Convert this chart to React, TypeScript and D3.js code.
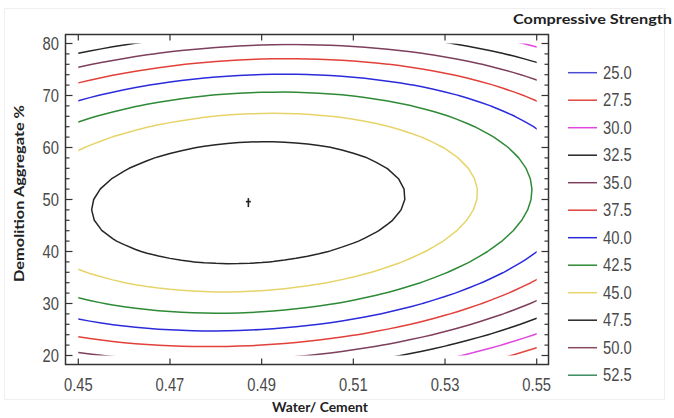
import React from 'react';
import * as d3 from 'd3';

// Contour levels of the fitted Compressive Strength surface
const levels = [25.0, 27.5, 30.0, 32.5, 35.0, 37.5, 40.0, 42.5, 45.0, 47.5, 50.0, 52.5];
const levelLabels = ['25.0', '27.5', '30.0', '32.5', '35.0', '37.5', '40.0', '42.5', '45.0', '47.5', '50.0', '52.5'];
const levelColors = ['#4b4bd6', '#e2473f', '#e048e0', '#262626', '#7d3f5c', '#e2403a', '#2b2bdc', '#2e8a36', '#e6d46a', '#262626', '#874a60', '#3a8a5e'];

const xTicks = [0.45, 0.47, 0.49, 0.51, 0.53, 0.55];
const xTickLabels = ['0.45', '0.47', '0.49', '0.51', '0.53', '0.55'];
const yTicks = [20, 30, 40, 50, 60, 70, 80];
const yTickLabels = ['20', '30', '40', '50', '60', '70', '80'];
const xDomain = [0.45, 0.55];
const yDomain = [20, 80];

// Fitted quadratic response surface
const optimumPoint = [0.4871, 49.4]; // water/cement, demolition %
const peakStrength = 49.7;
const curvature = [1903, 0.0161, 1.21]; // u^2, v^2, u*v

const W = 674;
const H = 418;

function strength(x: number, y: number) {
  const u = x - optimumPoint[0];
  const v = y - optimumPoint[1];
  return peakStrength - curvature[0] * u * u - curvature[1] * v * v + curvature[2] * u * v;
}

const NUM_SIZE = 18;
function narrowLen(s: string) {
  let w = 0;
  for (const ch of s) w += ch === '.' ? 0.228 : 0.456;
  return w * NUM_SIZE;
}

export default function App() {
  const sx = d3.scaleLinear().domain(xDomain).range([78.3, 536.7]);
  const sy = d3.scaleLinear().domain(yDomain).range([355.5, 43.5]);
  const frame = { x0: 65.5, y0: 34.5, x1: 548.5, y1: 364.5 };

  // evaluation grid (extends beyond the domain; drawing is clipped)
  const stepX = 0.0025;
  const stepY = 2;
  const gx0 = xDomain[0] - 2 * stepX;
  const gy0 = yDomain[0] - 2 * stepY;
  const nx = Math.round((xDomain[1] - xDomain[0]) / stepX) + 5;
  const ny = Math.round((yDomain[1] - yDomain[0]) / stepY) + 5;
  const values: number[] = new Array(nx * ny);
  for (let j = 0; j < ny; j++) {
    for (let i = 0; i < nx; i++) {
      values[j * nx + i] = strength(gx0 + i * stepX, gy0 + j * stepY);
    }
  }
  const contours = d3.contours().size([nx, ny]).thresholds(levels)(values);
  const toPx = (p: number[]) => {
    const x = gx0 + (p[0] - 0.5) * stepX;
    const y = gy0 + (p[1] - 0.5) * stepY;
    return `${sx(x).toFixed(2)},${sy(y).toFixed(2)}`;
  };
  const pathFor = (c: any) =>
    c.coordinates
      .map((poly: number[][][]) => poly.map((ring) => 'M' + ring.map(toPx).join('L') + 'Z').join(''))
      .join('');

  const numFont = "'Liberation Sans', Arial, sans-serif";
  const boldFont = "Lato, 'Open Sans', sans-serif";

  const yMinor = d3.range(20, 80.01, 2);

  return (
    <svg width={W} height={H} style={{ position: 'absolute', left: 0, top: 0, background: '#fff' }}>
      <defs>
        <clipPath id="dataClip">
          <rect x={sx(xDomain[0])} y={sy(yDomain[1])} width={sx(xDomain[1]) - sx(xDomain[0])} height={sy(yDomain[0]) - sy(yDomain[1])} />
        </clipPath>
      </defs>
      <rect x={0} y={0} width={W} height={H} fill="#fff" />
      {/* faint outer border */}
      <rect x={4.5} y={8.5} width={660} height={391} fill="none" stroke="#efefef" strokeWidth={1} />

      {/* contours */}
      <g clipPath="url(#dataClip)" fill="none" strokeWidth={1.5} strokeLinejoin="round">
        {contours.map((c, i) => (
          <path key={i} d={pathFor(c)} stroke={levelColors[i]} />
        ))}
      </g>

      {/* optimum marker */}
      <g stroke="#222" strokeWidth={1.6}>
        <line x1={sx(optimumPoint[0])} x2={sx(optimumPoint[0])} y1={sy(optimumPoint[1]) - 4.5} y2={sy(optimumPoint[1]) + 4.5} />
        <line x1={sx(optimumPoint[0]) - 2.5} x2={sx(optimumPoint[0]) + 2.5} y1={sy(optimumPoint[1]) - 1} y2={sy(optimumPoint[1]) - 1} />
      </g>

      {/* frame */}
      <rect x={frame.x0} y={frame.y0} width={frame.x1 - frame.x0} height={frame.y1 - frame.y0} fill="none" stroke="#333" strokeWidth={1.5} />

      {/* ticks */}
      <g stroke="#333" strokeWidth={1.2}>
        {yMinor.map((v) => {
          const major = v % 10 === 0;
          const len = major ? 7 : 4;
          return (
            <g key={v}>
              <line x1={frame.x0} x2={frame.x0 + len} y1={sy(v)} y2={sy(v)} />
              <line x1={frame.x1} x2={frame.x1 - len} y1={sy(v)} y2={sy(v)} />
            </g>
          );
        })}
        {xTicks.map((v) => (
          <g key={v}>
            <line x1={sx(v)} x2={sx(v)} y1={frame.y1} y2={frame.y1 - 6} />
            <line x1={sx(v)} x2={sx(v)} y1={frame.y0} y2={frame.y0 + 6} />
          </g>
        ))}
      </g>

      {/* tick labels */}
      <g fontFamily={numFont} fontSize={NUM_SIZE} fill="#4a4a4a">
        {yTicks.map((v, i) => (
          <text key={v} x={59} y={sy(v)} textAnchor="end" dominantBaseline="central"
            textLength={narrowLen(yTickLabels[i])} lengthAdjust="spacingAndGlyphs">{yTickLabels[i]}</text>
        ))}
        {xTicks.map((v, i) => (
          <text key={v} x={sx(v)} y={385} textAnchor="middle" dominantBaseline="central"
            textLength={narrowLen(xTickLabels[i])} lengthAdjust="spacingAndGlyphs">{xTickLabels[i]}</text>
        ))}
      </g>

      {/* axis titles */}
      <text x={320} y={407} textAnchor="middle" dominantBaseline="central" fontFamily={boldFont} fontWeight="bold" fontSize={13.5} fill="#222"
        textLength={96} lengthAdjust="spacingAndGlyphs">Water/ Cement</text>
      <text transform="translate(18,193.5) rotate(-90)" textAnchor="middle" dominantBaseline="central" fontFamily={boldFont} fontWeight="bold" fontSize={14} fill="#222"
        textLength={177} lengthAdjust="spacingAndGlyphs">Demolition Aggregate %</text>

      {/* legend */}
      <text x={513} y={18} dominantBaseline="central" fontFamily={boldFont} fontWeight="bold" fontSize={14} fill="#222"
        textLength={159} lengthAdjust="spacingAndGlyphs">Compressive Strength</text>
      <g>
        {levels.map((lv, i) => {
          const y = 72.7 + i * 27.5;
          return (
            <g key={lv}>
              <line x1={568} x2={597} y1={y} y2={y} stroke={levelColors[i]} strokeWidth={1.5} />
              <text x={603} y={y} dominantBaseline="central" fontFamily={numFont} fontSize={NUM_SIZE} fill="#4a4a4a"
                textLength={narrowLen(levelLabels[i])} lengthAdjust="spacingAndGlyphs">{levelLabels[i]}</text>
            </g>
          );
        })}
      </g>
    </svg>
  );
}
